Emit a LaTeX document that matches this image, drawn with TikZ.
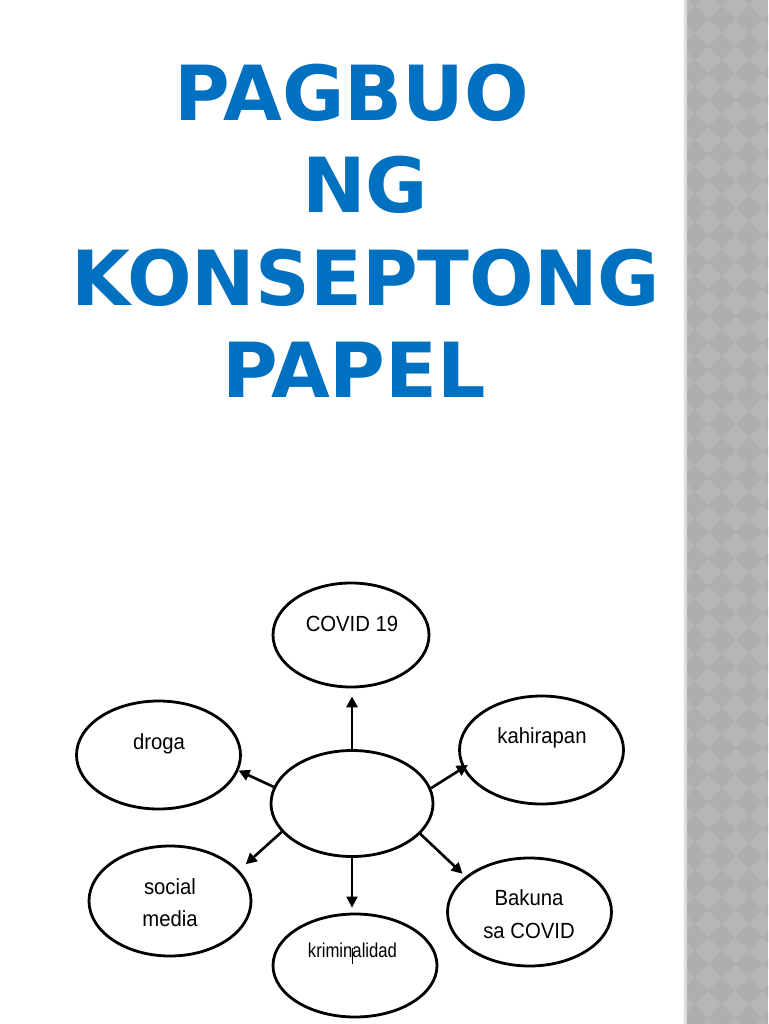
\documentclass[tikz,border=0pt]{standalone}
\usepackage{fontspec}
\setmainfont{Liberation Sans}
\newfontfamily\titlefont{DejaVu Sans}
\usetikzlibrary{shapes.geometric,arrows.meta}
\definecolor{titleblue}{RGB}{0,112,192}
\definecolor{stripbase}{RGB}{182,182,182}
\definecolor{stripdark}{RGB}{174,174,174}
\definecolor{stripedge}{RGB}{220,220,220}
\newcommand\vstretch[2]{\scalebox{1}[#1]{#2}}
\begin{document}
\begin{tikzpicture}[x=1pt,y=-1pt,
  bubble/.style={draw=black, line width=2.8pt, ellipse, inner sep=0pt, fill=white},
  ttl/.style={text=titleblue, font=\titlefont\bfseries\fontsize{76}{76}\selectfont, anchor=base, inner sep=0pt},
  lbl/.style={font=\fontsize{20.3}{24}\selectfont, anchor=base, inner sep=0pt},
  smalllbl/.style={font=\fontsize{16.7}{20}\selectfont, anchor=base, inner sep=0pt},
  arr/.style={line width=2.6pt, -{Triangle[length=11pt,width=11pt]}},
]
\useasboundingbox (0,0) rectangle (768,1024);
\fill[white] (0,0) rectangle (768,1024);
% decorative strip
\begin{scope}
\clip (684,0) rectangle (768,1024);
\fill[stripbase] (684,0) rectangle (768,1024);
\foreach \i in {-1,...,3}{
  \foreach \j in {-1,...,38}{
    \fill[stripdark] ({695+27*\i},{19+27*\j-13.5}) -- ++(13.5,13.5) -- ++(-13.5,13.5) -- ++(-13.5,-13.5) -- cycle;
  }
}
\fill[stripedge] (684,0) rectangle (686.5,1024);
\end{scope}
% title
\node[ttl] (t1) at (352,121) {PAGBUO};
\node[ttl] (t2) at (365,213) {NG};
\node[ttl] (t3) at (366,305) {KONSEPTONG};
\node[ttl] (t4) at (354,397) {PAPEL};
% bubbles
\node[bubble, minimum width=156pt, minimum height=104pt] (covid) at (351,635) {};
\node[bubble, minimum width=164pt, minimum height=108pt] (droga) at (158.5,755) {};
\node[bubble, minimum width=164pt, minimum height=108pt] (kah) at (541.5,750) {};
\node[bubble, minimum width=162pt, minimum height=106pt] (c) at (352,803.5) {};
\node[bubble, minimum width=162pt, minimum height=110pt] (social) at (170,901) {};
\node[bubble, minimum width=164pt, minimum height=103pt] (krim) at (355,965.5) {};
\node[bubble, minimum width=164pt, minimum height=108pt] (bakuna) at (529.5,912) {};
% labels
\node[lbl] (lcovid) at (352,631) {\vstretch{1.08}{COVID 19}};
\node[lbl] (ldroga) at (159,749) {\vstretch{1.08}{droga}};
\node[lbl] (lsocial) at (170,894) {\vstretch{1.08}{social}};
\node[lbl] (lmedia) at (170,926) {\vstretch{1.08}{media}};
\node[lbl] (lkah) at (542,743) {\vstretch{1.08}{kahirapan}};
\node[lbl] (lbak) at (529,905) {\vstretch{1.08}{Bakuna}};
\node[lbl] (lsa) at (529,938) {\vstretch{1.08}{sa COVID}};
\node[smalllbl] (lkrim) at (352.5,957) {\vstretch{1.2}{kriminalidad}};
\draw[line width=0.7pt] (352,948) -- (352,964);
% arrows
\draw[arr, line width=2.8pt, shorten >=8pt] (c.north) -- (c.north |- covid.south);
\draw[arr] (c.168) -- (droga.349);
\draw[arr, shorten >=9pt] (c.202) -- (social.24);
\draw[arr, shorten >=-6pt] (c.11) -- (kah.193);
\draw[arr, shorten >=4pt] (c.336) -- (bakuna.151);
\draw[arr, line width=2pt, shorten >=5pt] (c.south) -- (c.south |- krim.north);
\end{tikzpicture}
\end{document}
